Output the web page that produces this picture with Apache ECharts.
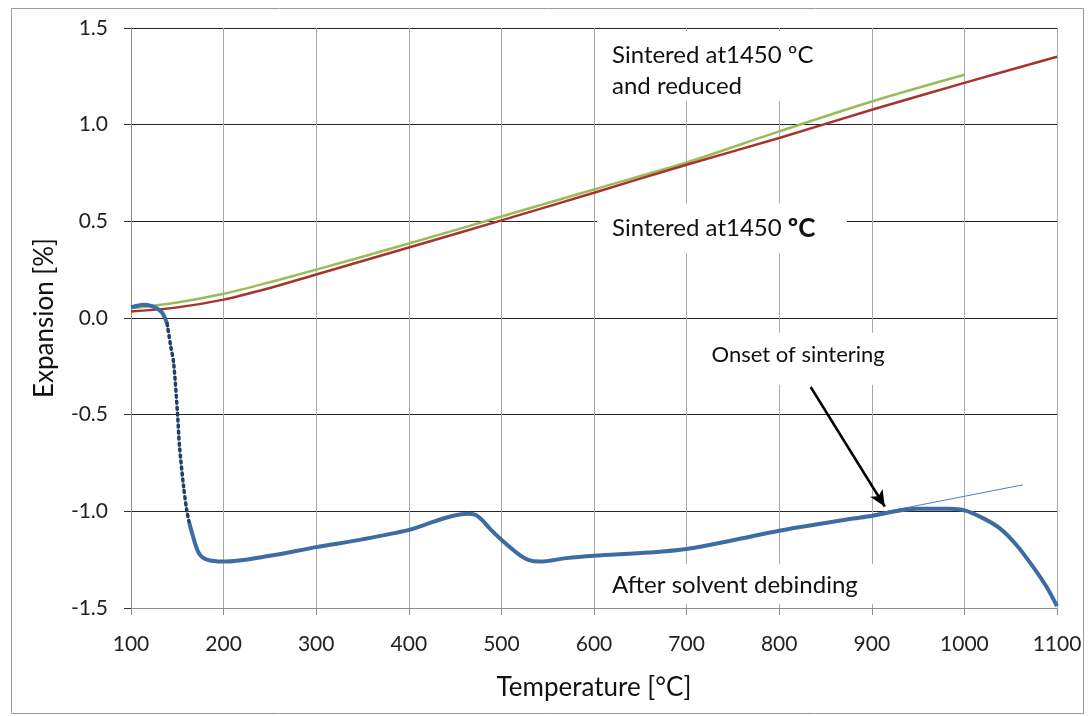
<!DOCTYPE html>
<html>
<head>
<meta charset="utf-8">
<script src="https://cdn.jsdelivr.net/npm/echarts@6/dist/echarts.min.js"></script>
<style>
html,body{margin:0;padding:0;background:#fff;}
#c{width:1088px;height:716px;}
</style>
</head>
<body>
<div id="c"></div>
<script>
// ---- data ----
var xTicks = [100, 200, 300, 400, 500, 600, 700, 800, 900, 1000, 1100];
var yTicks = [-1.5, -1.0, -0.5, 0.0, 0.5, 1.0, 1.5];

// Sintered at 1450 ºC (red)
var sinteredT = [100, 150, 200, 250, 300, 400, 500, 600, 700, 800, 900, 1000, 1100];
var sinteredV = [0.034, 0.055, 0.095, 0.155, 0.225, 0.365, 0.505, 0.648, 0.793, 0.931, 1.077, 1.216, 1.351];

// Sintered at 1450 ºC and reduced (green)
var reducedT = [100, 150, 200, 250, 300, 400, 500, 600, 700, 800, 900, 1000];
var reducedV = [0.05, 0.08, 0.125, 0.185, 0.25, 0.385, 0.525, 0.665, 0.804, 0.965, 1.12, 1.258];

// After solvent debinding (blue) - start, steep (sparse points), main part
var debStartT = [100, 108, 114, 122, 128, 134, 139];
var debStartV = [0.055, 0.065, 0.068, 0.062, 0.05, 0.025, -0.03];
var debSteepT = [139, 143, 146, 150.3, 152.4, 156.8, 160.4, 163];
var debSteepV = [-0.03, -0.15, -0.23, -0.5, -0.665, -0.872, -1.0, -1.06];
var debMainT = [163, 165.8, 173, 182, 200, 250, 300, 350, 400, 427, 448, 464, 472, 479, 488, 500, 517, 529, 542, 570, 600, 660, 700, 750, 800, 850, 876, 901, 930, 948, 984, 1001, 1020, 1038, 1056, 1074, 1088.5, 1100];
var debMainV = [-1.06, -1.11, -1.214, -1.25, -1.26, -1.23, -1.185, -1.145, -1.096, -1.053, -1.023, -1.013, -1.018, -1.044, -1.092, -1.147, -1.216, -1.251, -1.26, -1.242, -1.23, -1.213, -1.195, -1.15, -1.10, -1.06, -1.04, -1.023, -0.996, -0.987, -0.987, -0.996, -1.035, -1.087, -1.173, -1.286, -1.389, -1.49];

// thin tangent line (onset of sintering)
var tangentT = [880, 1063];
var tangentV = [-1.035, -0.863];

// arrow from label to onset point
var arrowFrom = [834, -0.357];
var arrowTo = [914, -0.975];

function pairs(t, v) { return t.map(function (x, i) { return [x, v[i]]; }); }

var FONT = 'Lato, "Open Sans", sans-serif';
var chart = echarts.init(document.getElementById('c'), null, {renderer: 'canvas'});

var option = {
  backgroundColor: '#fff',
  animation: false,
  grid: {left: 131, right: 31, top: 28, bottom: 108, containLabel: false},
  xAxis: {
    type: 'value', min: 100, max: 1100, interval: 100,
    name: 'Temperature [°C]', nameLocation: 'middle', nameGap: 67,
    nameTextStyle: {fontFamily: FONT, fontSize: 26, color: '#111'},
    axisLine: {show: true, onZero: false, lineStyle: {color: '#8c8c8c', width: 1}},
    axisTick: {show: true, length: 7, lineStyle: {color: '#8c8c8c'}},
    axisLabel: {fontFamily: FONT, fontSize: 21, color: '#222', margin: 26,
      formatter: function (v) { return xTicks.indexOf(v) >= 0 ? String(v) : ''; }},
    splitLine: {show: true, lineStyle: {color: '#a8a8a8', width: 1}}
  },
  yAxis: {
    type: 'value', min: -1.5, max: 1.5, interval: 0.5,
    name: 'Expansion [%]', nameLocation: 'middle', nameGap: 73,
    nameTextStyle: {fontFamily: FONT, fontSize: 26, color: '#111'},
    axisLine: {show: true, onZero: false, lineStyle: {color: '#8c8c8c', width: 1}},
    axisTick: {show: true, length: 7, lineStyle: {color: '#333'}},
    axisLabel: {fontFamily: FONT, fontSize: 21, color: '#222', margin: 23,
      formatter: function (v) { return v.toFixed(1); }},
    splitLine: {show: true, lineStyle: {color: '#262626', width: 1}}
  },
  series: [
    {
      name: 'Sintered at1450 ºC and reduced', type: 'line', data: pairs(reducedT, reducedV),
      smooth: 0.3, showSymbol: false, z: 3,
      lineStyle: {color: '#9BBB59', width: 2.5}
    },
    {
      name: 'Sintered at1450 ºC', type: 'line', data: pairs(sinteredT, sinteredV),
      smooth: 0.3, showSymbol: false, z: 4,
      lineStyle: {color: '#A6332F', width: 2.5}
    },
    {
      name: 'tangent', type: 'line', data: pairs(tangentT, tangentV),
      showSymbol: false, z: 5,
      lineStyle: {color: '#4F81BD', width: 1},
      markLine: {
        silent: true, symbol: ['none', 'arrow'], symbolSize: [11, 16],
        label: {show: false},
        lineStyle: {color: '#000', width: 2.5, type: 'solid'},
        data: [[{coord: arrowFrom}, {coord: arrowTo}]]
      }
    },
    {
      name: 'After solvent debinding (start)', type: 'line', data: pairs(debStartT, debStartV),
      smooth: 0.4, showSymbol: false, z: 6,
      lineStyle: {color: '#3D6CA3', width: 4}
    },
    {
      name: 'After solvent debinding (steep)', type: 'line', data: pairs(debSteepT, debSteepV),
      smooth: 0.3, showSymbol: false, z: 6,
      lineStyle: {color: '#1F3F68', width: 3.5, type: [2, 4], cap: 'round'}
    },
    {
      name: 'After solvent debinding', type: 'line', data: pairs(debMainT, debMainV),
      smooth: 0.3, showSymbol: false, z: 6,
      lineStyle: {color: '#3D6CA3', width: 4}
    }
  ]
};
chart.setOption(option);

function px(t, v) { return chart.convertToPixel({gridIndex: 0}, [t, v]); }

var pA = px(600, 1.5);
var pB = px(600, 0.5);
var pC = px(700, -0.5);
var pD = px(600, -1.5);

function txt(x, y, s, size, z) {
  return {type: 'text', x: x, y: y, z: z || 10,
    style: {text: s, font: size + 'px ' + FONT, fill: '#111', verticalAlign: 'middle', align: 'left'}};
}

chart.setOption({
  graphic: [
    {type: 'rect', left: 9, top: 6, shape: {width: 1072, height: 705},
      style: {fill: 'none', stroke: '#9a9a9a', lineWidth: 1}, silent: true, z: 0},
    // upper label
    {type: 'rect', shape: {x: pA[0] + 4, y: pA[1] + 3, width: 246, height: 70}, style: {fill: '#fff'}, z: 1},
    txt(pA[0] + 18, pA[1] + 27, 'Sintered at1450 ºC', 24),
    txt(pA[0] + 18, pA[1] + 58, 'and reduced', 24),
    // lower sintered label
    {type: 'rect', shape: {x: pB[0] + 3, y: pB[1] - 18, width: 250, height: 50}, style: {fill: '#fff'}, z: 1},
    {type: 'text', x: pB[0] + 18, y: pB[1] + 7, z: 10,
      style: {text: '{a|Sintered at1450 }{b|ºC}', verticalAlign: 'middle', align: 'left',
        rich: {a: {font: '24px ' + FONT, fill: '#111', verticalAlign: 'middle'},
               b: {font: 'bold 26px ' + FONT, fill: '#111', verticalAlign: 'middle'}}}},
    // onset label
    {type: 'rect', shape: {x: pC[0] + 18, y: pC[1] - 82, width: 185, height: 52}, style: {fill: '#fff'}, z: 1},
    txt(pC[0] + 25, pC[1] - 60, 'Onset of sintering', 22),
    // after solvent label
    {type: 'rect', shape: {x: pD[0] + 4, y: pD[1] - 44, width: 282, height: 40}, style: {fill: '#fff'}, z: 1},
    txt(pD[0] + 18, pD[1] - 23, 'After solvent debinding', 24)
  ]
});
</script>
</body>
</html>
